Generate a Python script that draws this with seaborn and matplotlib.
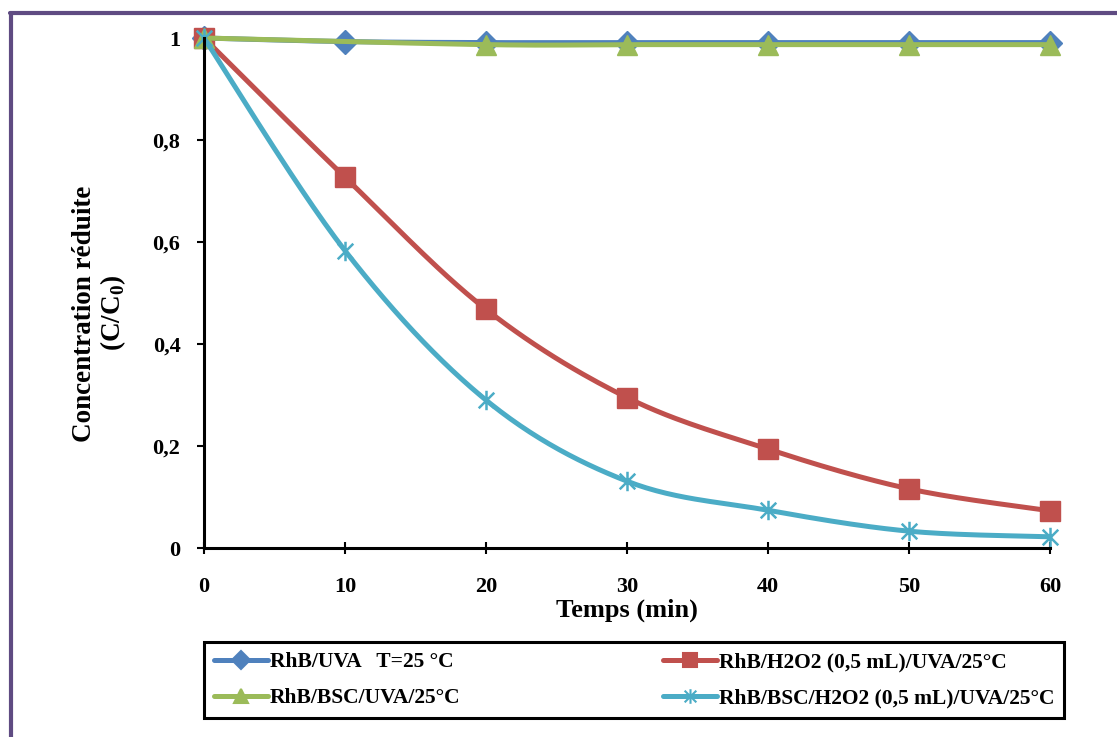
import numpy as np
import pandas as pd
import matplotlib
matplotlib.use("Agg")
import matplotlib.pyplot as plt
from matplotlib.path import Path
from matplotlib.lines import Line2D
import seaborn as sns

# ---- data ----
time_min = [0, 10, 20, 30, 40, 50, 60]
rhb_uva = [1.0, 0.993, 0.991, 0.991, 0.991, 0.991, 0.991]
rhb_h2o2 = [1.0, 0.727, 0.468, 0.295, 0.194, 0.116, 0.073]
rhb_bsc = [1.0, np.nan, 0.987, 0.987, 0.987, 0.987, 0.987]   # no point at 10 min
rhb_bsc_h2o2 = [1.0, 0.583, 0.290, 0.131, 0.074, 0.033, 0.022]
series_labels = ["RhB/UVA   T=25 °C", "RhB/H2O2 (0,5 mL)/UVA/25°C",
                 "RhB/BSC/UVA/25°C", "RhB/BSC/H2O2 (0,5 mL)/UVA/25°C"]
x_ticks = [0, 10, 20, 30, 40, 50, 60]
y_ticks = [0, 0.2, 0.4, 0.6, 0.8, 1.0]
y_ticklabels = ["0", "0,2", "0,4", "0,6", "0,8", "1"]

sns.set_theme(style="white")
plt.rcParams["font.family"] = ["Liberation Serif", "DejaVu Serif"]
plt.rcParams["font.weight"] = "bold"
plt.rcParams["mathtext.fontset"] = "custom"
plt.rcParams["mathtext.rm"] = "Liberation Serif:bold"
plt.rcParams["mathtext.bf"] = "Liberation Serif:bold"
for k in ["text.color", "axes.labelcolor", "xtick.color", "ytick.color"]:
    plt.rcParams[k] = "black"

fig = plt.figure(figsize=(11.17, 7.37), dpi=100)
ax = fig.add_axes([204/1117, 1-548/737, 846/1117, 510/737])


def smooth(xs, ys, n=30):
    # Excel-like smoothed line (Catmull-Rom Bezier) drawn through the data points
    xs = np.asarray(xs, float); ys = np.asarray(ys, float)
    px = np.concatenate([[xs[0]], xs, [xs[-1]]])
    py = np.concatenate([[ys[0]], ys, [ys[-1]]])
    ox, oy = [], []
    t = np.linspace(0, 1, n)
    for i in range(1, len(px) - 2):
        p0 = np.array([px[i], py[i]]); p3 = np.array([px[i+1], py[i+1]])
        c1 = p0 + (np.array([px[i+1], py[i+1]]) - np.array([px[i-1], py[i-1]])) / 6
        c2 = p3 - (np.array([px[i+2], py[i+2]]) - np.array([px[i], py[i]])) / 6
        b = ((1-t)**3)[:, None]*p0 + (3*(1-t)**2*t)[:, None]*c1 + (3*(1-t)*t**2)[:, None]*c2 + (t**3)[:, None]*p3
        ox.extend(b[:, 0]); oy.extend(b[:, 1])
    return np.array(ox), np.array(oy)


star = Path([(0, -1), (0, 1), (-0.8, -0.8), (0.8, 0.8), (-0.8, 0.8), (0.8, -0.8)],
            [Path.MOVETO, Path.LINETO, Path.MOVETO, Path.LINETO, Path.MOVETO, Path.LINETO])

specs = [
    (rhb_uva, "#4F81BD", "D", 12),
    (rhb_h2o2, "#C0504D", "s", 14),
    (rhb_bsc, "#9BBB59", "^", 14),
    (rhb_bsc_h2o2, "#4BACC6", star, 14),
]

handles = []
for (vals, col, mk, ms), lab in zip(specs, series_labels):
    dm = pd.DataFrame({"x": time_min, "y": vals}).dropna()
    sx, sy = smooth(dm["x"].values, dm["y"].values)
    df = pd.DataFrame({"x": sx, "y": sy})
    sns.lineplot(data=df, x="x", y="y", ax=ax, sort=False, estimator=None,
                 color=col, linewidth=3.6, clip_on=False, legend=False)
    if mk is star:
        ax.plot(dm["x"], dm["y"], linestyle="none", marker=mk, markersize=ms,
                markeredgecolor=col, markerfacecolor=col, markeredgewidth=1.8, clip_on=False)
    else:
        ax.plot(dm["x"], dm["y"], linestyle="none", marker=mk, markersize=ms,
                color=col, markeredgecolor=col, clip_on=False)
    handles.append(Line2D([0], [0], color=col, linewidth=3.6, marker=mk,
                          markersize=ms*0.75, markeredgecolor=col, markerfacecolor=col,
                          markeredgewidth=1.5))

ax.set_xlim(0, 60)
ax.set_ylim(0, 1)
ax.set_xticks(x_ticks)
ax.set_xticklabels([str(v) for v in x_ticks])
ax.set_yticks(y_ticks)
ax.set_yticklabels(y_ticklabels)
for s in ["top", "right"]:
    ax.spines[s].set_visible(False)
for s in ["left", "bottom"]:
    ax.spines[s].set_color("black")
    ax.spines[s].set_linewidth(2.2)
ax.tick_params(axis="y", direction="out", length=5, width=1.5, color="black",
               pad=12, labelsize=16)
ax.tick_params(axis="x", direction="inout", length=8, width=1.5, color="black",
               pad=17, labelsize=16)
ax.tick_params(left=True, bottom=True)
for lbl in ax.get_xticklabels() + ax.get_yticklabels():
    lbl.set_fontweight("bold")

ax.set_xlabel("Temps (min)", fontsize=19, fontweight="bold")
ax.xaxis.set_label_coords(0.5, -0.1)
ax.set_ylabel("Concentration réduite\n(C/C$_\\mathbf{0}$)", fontsize=19.5,
              fontweight="bold", linespacing=1.05)
ax.yaxis.set_label_coords(-0.09, 0.46)

# legend rows: (blue, red) then (green, cyan)
order = [0, 2, 1, 3]
leg = fig.legend([handles[i] for i in order], [series_labels[i] for i in order],
                 loc="lower left",
                 bbox_to_anchor=(204/1117, 1-718/737, 860/1117, 73/737),
                 mode="expand", ncol=2, frameon=True, fancybox=False,
                 prop={"family": "Liberation Serif", "weight": "bold", "size": 15.5},
                 handlelength=2.5, handletextpad=0.1, borderaxespad=0,
                 labelspacing=0.75, borderpad=0.45)
leg.get_frame().set_edgecolor("black")
leg.get_frame().set_linewidth(2.2)
leg.get_frame().set_alpha(1)

purple = "#5F4B82"
fig.add_artist(Line2D([10/1117, 1], [1-13/737, 1-13/737], color=purple, linewidth=3,
                      transform=fig.transFigure))
fig.add_artist(Line2D([11/1117, 11/1117], [0, 1-13/737], color=purple, linewidth=3,
                      transform=fig.transFigure))

fig.savefig("out.png", dpi=100)
